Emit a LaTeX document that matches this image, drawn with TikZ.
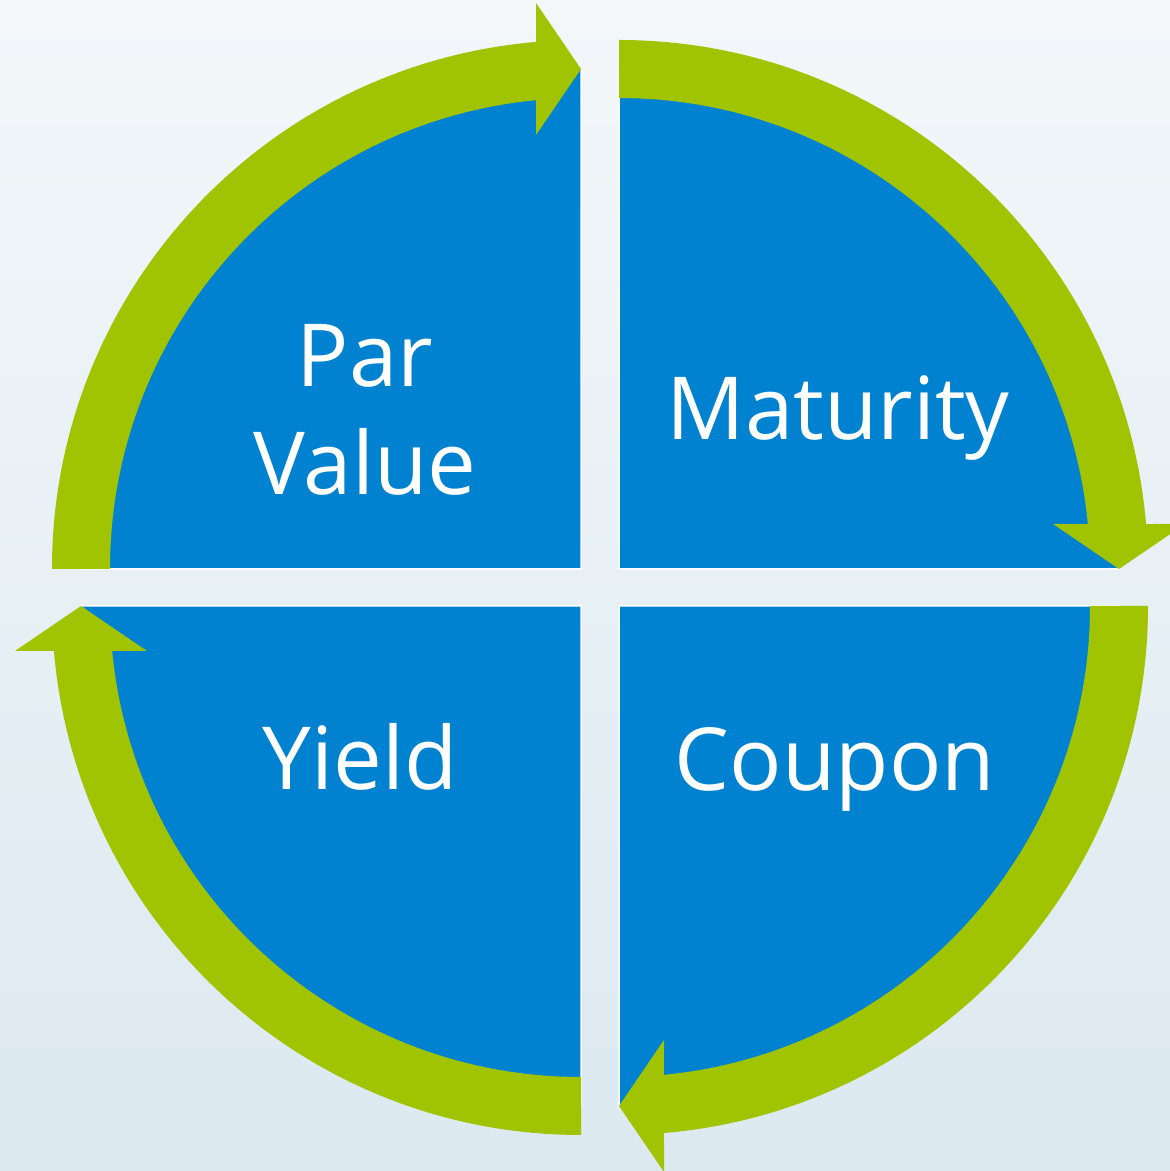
\documentclass[tikz,border=0pt]{standalone}
\usepackage{fontspec}
\setmainfont{Open Sans}
\definecolor{secblue}{RGB}{0,130,209}
\definecolor{ringgreen}{RGB}{160,196,2}
\definecolor{bgtop}{RGB}{243,247,250}
\definecolor{bgbot}{RGB}{220,233,240}
\tikzset{
  sector/.style={fill=secblue, draw=white, line width=1.5pt},
  ringarrow/.style={fill=ringgreen},
  label/.style={text=white, font=\fontsize{87}{108}\selectfont, inner sep=0pt, align=center}
}
\begin{document}
\begin{tikzpicture}[x=1pt,y=1pt]
\useasboundingbox (0,0) rectangle (1170,1171);
\clip (0,0) rectangle (1170,1171);
\shade[top color=bgtop, bottom color=bgbot] (0,0) rectangle (1170,1171);
% sectors and arrows, each built in the local frame of the top-left quarter and rotated
\foreach \cx/\cy/\rot in {581/602/0, 619/602/-90, 619/565/-180, 581/565/-270}{
  \begin{scope}[shift={(\cx,\cy)}, rotate=\rot]
    \path[sector] (0,0) -- (180:500) arc[start angle=180, end angle=90, radius=500] -- cycle;
    \path[ringarrow] (180:529) arc[start angle=180, end angle=94.88, radius=529]
      -- (-45,566) -- (0,500) -- (-45,434) -- (95.48:471)
      arc[start angle=95.48, end angle=180, radius=471] -- cycle;
  \end{scope}
}
\node[label, anchor=center] (par) at (365,761) {Par\\Value};
\node[label, anchor=base] (mat) at (838,731) {Maturity};
\node[label, anchor=base] (yield) at (360,381) {Yield};
\node[label, anchor=base] (coupon) at (835,380) {Coupon};
\end{tikzpicture}
\end{document}
